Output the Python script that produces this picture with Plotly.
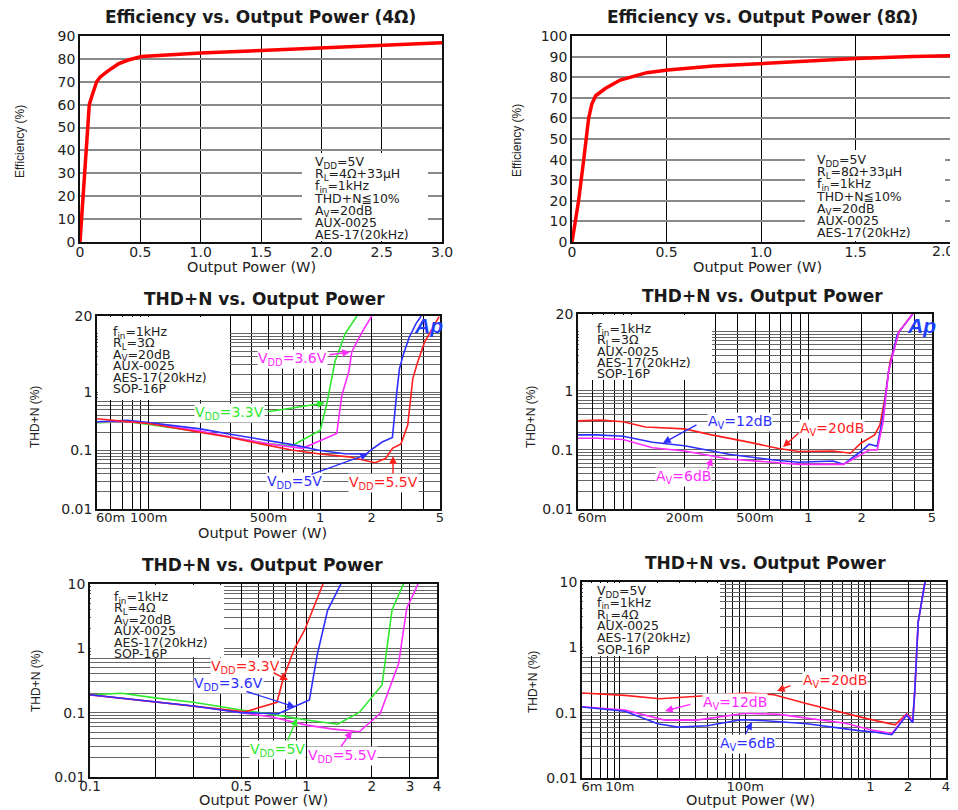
import math
import plotly.graph_objects as go

# the page shows the figure with the browser's default 8px body margin
PAGE_W, PAGE_H, OFF = 958, 810, 8
W, H = PAGE_W - OFF, PAGE_H - OFF
FONT = "Liberation Sans, Arial, Helvetica, sans-serif"
WIDE = "DejaVu Sans, Verdana, sans-serif"
RED, GREEN, BLUE, MAG = "#ff1f1f", "#2fe82f", "#2f2fff", "#ff2cff"

# ---------------- data ----------------
# Efficiency 4 ohm
eff4_power = [0, 0.025, 0.05, 0.077, 0.1, 0.138, 0.166, 0.235, 0.318, 0.40, 0.51, 0.7, 1.0, 1.5, 2.0, 2.5, 3.0]
eff4_eff = [0, 20, 40, 60, 64, 70, 72, 74.9, 77.8, 79.5, 81, 81.6, 82.6, 83.7, 84.8, 85.8, 87.1]
# Efficiency 8 ohm
eff8_power = [0, 0.035, 0.062, 0.088, 0.105, 0.125, 0.176, 0.255, 0.396, 0.507, 0.749, 1.0, 1.278, 1.503, 1.806, 2.0]
eff8_eff = [0, 20, 40, 60, 67, 71, 74.5, 78.6, 82.2, 83.5, 85.4, 86.7, 88, 89.1, 90, 90.4]

# THD+N, 3 ohm, various VDD
p3_33_x = [0.05, 0.075, 0.1, 0.2, 0.3, 0.5, 0.68, 1.0, 1.09, 1.22, 1.4, 1.64]
p3_33_y = [0.30, 0.31, 0.28, 0.21, 0.17, 0.13, 0.12, 0.22, 0.6, 3.3, 10, 20]
p3_36_x = [0.05, 0.075, 0.1, 0.2, 0.3, 0.5, 0.79, 1.25, 1.34, 1.47, 1.53, 1.76, 2.0]
p3_36_y = [0.31, 0.31, 0.29, 0.215, 0.17, 0.13, 0.109, 0.196, 0.89, 2.23, 4.9, 10.7, 20]
p3_50_x = [0.05, 0.075, 0.1, 0.2, 0.3, 0.5, 0.7, 1.0, 1.4, 1.85, 2.0, 2.3, 2.64, 2.8, 2.9, 3.05, 3.3, 3.63, 3.89]
p3_50_y = [0.31, 0.33, 0.30, 0.235, 0.19, 0.15, 0.125, 0.10, 0.088, 0.087, 0.105, 0.14, 0.168, 1.0, 2.5, 4.3, 8.5, 15, 20]
p3_55_x = [0.05, 0.07, 0.1, 0.19, 0.29, 0.45, 0.68, 1.0, 1.47, 2.09, 2.41, 2.64, 2.96, 3.24, 3.47, 3.71, 4.07, 4.94]
p3_55_y = [0.35, 0.32, 0.29, 0.21, 0.17, 0.13, 0.102, 0.087, 0.078, 0.062, 0.073, 0.109, 0.13, 0.27, 1.7, 3.3, 7.2, 19.5]

# THD+N, 3 ohm, various gain
p4_20_x = [0.05, 0.067, 0.09, 0.12, 0.2, 0.284, 0.446, 0.67, 0.88, 1.0, 1.38, 1.73, 1.98, 2.37, 2.54, 2.71, 2.9, 3.25, 3.89]
p4_20_y = [0.31, 0.32, 0.30, 0.245, 0.227, 0.18, 0.138, 0.107, 0.094, 0.095, 0.096, 0.088, 0.13, 0.18, 0.265, 0.75, 3.14, 10.1, 20]
p4_12_x = [0.05, 0.064, 0.09, 0.132, 0.2, 0.356, 0.625, 0.877, 1.38, 1.58, 1.98, 2.21, 2.45, 2.65, 2.84, 3.18, 3.89]
p4_12_y = [0.18, 0.18, 0.17, 0.135, 0.118, 0.0845, 0.068, 0.0618, 0.065, 0.057, 0.094, 0.125, 0.115, 0.39, 2.12, 9, 20]
p4_6_x = [0.05, 0.064, 0.09, 0.132, 0.2, 0.356, 0.625, 0.877, 1.58, 1.98, 2.21, 2.45, 2.65, 2.84, 3.25, 3.89]
p4_6_y = [0.158, 0.158, 0.15, 0.109, 0.096, 0.0703, 0.062, 0.057, 0.057, 0.082, 0.10, 0.10, 0.30, 2.12, 10, 20]

# THD+N, 4 ohm, various VDD
p5_33_x = [0.1, 0.2, 0.3, 0.52, 0.73, 0.78, 0.88, 0.98, 1.19]
p5_33_y = [0.19, 0.148, 0.127, 0.103, 0.145, 0.34, 1.0, 1.93, 10]
p5_36_x = [0.1, 0.2, 0.3, 0.5, 0.74, 1.03, 1.12, 1.25, 1.44]
p5_36_y = [0.19, 0.148, 0.127, 0.10, 0.096, 0.157, 0.8, 3.9, 10]
p5_50_x = [0.1, 0.14, 0.2, 0.3, 0.5, 0.7, 1.0, 1.39, 1.75, 2.23, 2.48, 2.8]
p5_50_y = [0.19, 0.20, 0.17, 0.145, 0.11, 0.094, 0.077, 0.066, 0.101, 0.269, 3.95, 10]
p5_55_x = [0.1, 0.2, 0.3, 0.5, 0.7, 1.0, 1.3, 1.75, 2.19, 2.66, 2.9, 3.27]
p5_55_y = [0.188, 0.148, 0.127, 0.10, 0.085, 0.064, 0.056, 0.0505, 0.098, 0.58, 4.2, 10]

# THD+N, 4 ohm, VDD=5V, various gain
p6_20_x = [0.005, 0.011, 0.0208, 0.0568, 0.104, 0.17, 0.312, 0.935, 1.57, 1.94, 2.07, 2.17, 2.26, 2.4, 2.72]
p6_20_y = [0.20, 0.184, 0.163, 0.188, 0.20, 0.188, 0.137, 0.081, 0.065, 0.096, 0.085, 0.072, 0.23, 2.44, 10]
p6_12_x = [0.005, 0.011, 0.0228, 0.041, 0.101, 0.186, 0.63, 1.06, 1.48, 1.94, 2.17, 2.26, 2.4, 2.72]
p6_12_y = [0.123, 0.11, 0.077, 0.077, 0.098, 0.094, 0.069, 0.0535, 0.048, 0.094, 0.074, 0.23, 2.44, 10]
p6_6_x = [0.005, 0.011, 0.0201, 0.029, 0.05, 0.0925, 0.133, 0.312, 0.78, 1.06, 1.48, 1.94, 2.17, 2.26, 2.4, 2.72]
p6_6_y = [0.122, 0.105, 0.0676, 0.06, 0.063, 0.078, 0.076, 0.0676, 0.0535, 0.0505, 0.046, 0.091, 0.07, 0.23, 2.44, 10]

# tick labels
eff4_xticks = [0, 0.5, 1.0, 1.5, 2.0, 2.5, 3.0]
eff4_xlabels = ["0", "0.5", "1.0", "1.5", "2.0", "2.5", "3.0"]
eff4_yticks = list(range(0, 91, 10))
eff8_xticks = [0, 0.5, 1.0, 1.5, 2.0]
eff8_xlabels = ["0", "0.5", "1.0", "1.5", ""]   # last label "2.0" placed at the page edge below
eff8_last_label = "2.0"
eff8_yticks = list(range(0, 101, 10))
p3_xlab = {0.06: "60m", 0.1: "100m", 0.5: "500m", 1: "1", 2: "2", 5: "5"}
p4_xlab = {0.06: "60m", 0.2: "200m", 0.5: "500m", 1: "1", 2: "2", 5: "5"}
p5_xlab = {0.1: "0.1", 0.5: "0.5", 1: "1", 2: "2", 3: "3", 4: "4"}
p6_xlab = {0.006: "6m", 0.01: "10m", 0.1: "100m", 1: "1", 2: "2", 4: "4"}
thd20_ylab = {0.01: "0.01", 0.1: "0.1", 1: "1", 20: "20"}
thd10_ylab = {0.01: "0.01", 0.1: "0.1", 1: "1", 10: "10"}

# ---------------- layout geometry (page pixels: L, T, R, B) ----------------
BOX = {1: (80, 36, 442, 242), 2: (572, 36, 950, 242), 3: (97, 316, 440, 509),
       4: (578, 314, 932, 509), 5: (90, 584, 437, 777), 6: (582, 582, 946, 778)}
XR = {1: (0, 3, False), 2: (0, 2, False), 3: (0.05, 5, True), 4: (0.05, 5, True),
      5: (0.1, 4, True), 6: (0.005, 4, True)}
YR = {1: (0, 90, False), 2: (0, 100, False), 3: (0.01, 20, True), 4: (0.01, 20, True),
      5: (0.01, 10, True), 6: (0.01, 10, True)}


def px(x):
    return (x - OFF) / W


def py(y):
    return 1 - (y - OFF) / H


def frac_to_val(f, rng):
    lo, hi, islog = rng
    if islog:
        a, b = math.log10(lo), math.log10(hi)
        return 10 ** (a + f * (b - a))
    return lo + f * (hi - lo)


def log_grid(lo, hi):
    vals = []
    for e in range(-4, 3):
        for m in range(1, 10):
            v = round(m * 10 ** e, 8)
            if lo * 0.999 <= v <= hi * 1.001:
                vals.append(v)
    if round(hi, 8) not in vals:
        vals.append(round(hi, 8))
    return vals


fig = go.Figure()
layout = dict(width=W, height=H, margin=dict(l=0, r=0, t=0, b=0, autoexpand=False),
              paper_bgcolor="white", plot_bgcolor="white", showlegend=False,
              font=dict(family=FONT, color="#222"))

base_ax = dict(showline=True, mirror=True, linecolor="#111", linewidth=1.5, ticks="",
               zeroline=False, showgrid=True, tickfont=dict(size=14, color="#222", family=WIDE),
               fixedrange=True, ticklabeloverflow="allow", automargin=False, tickangle=0)


def axkeys(i):
    return ("xaxis" if i == 1 else f"xaxis{i}", "yaxis" if i == 1 else f"yaxis{i}",
            "x" if i == 1 else f"x{i}", "y" if i == 1 else f"y{i}")


def set_axes(i, xa, ya):
    L, T, R, B = BOX[i]
    xk, yk, xr, yr = axkeys(i)
    layout[xk] = dict(base_ax, domain=[px(L), px(R)], anchor=yr, ticklabelstandoff=-4)
    layout[xk].update(xa)
    layout[yk] = dict(base_ax, domain=[py(B), py(T)], anchor=xr)
    layout[yk].update(ya)


set_axes(1, dict(range=[0, 3], tickvals=eff4_xticks, ticktext=eff4_xlabels, gridcolor="#000", gridwidth=1),
         dict(range=[0, 90], tickvals=eff4_yticks, gridcolor="#8a8a8a", gridwidth=1.5))
set_axes(2, dict(range=[0, 2], tickvals=eff8_xticks, ticktext=eff8_xlabels, gridcolor="#000", gridwidth=1),
         dict(range=[0, 100], tickvals=eff8_yticks, gridcolor="#8a8a8a", gridwidth=1.5))


def log_axis(rng, labels, gcolor, size=14):
    lo, hi, _ = rng
    return dict(type="log", range=[math.log10(lo), math.log10(hi)], tickvals=list(labels.keys()),
                ticktext=list(labels.values()), gridcolor=gcolor, gridwidth=1,
                tickfont=dict(size=size, color="#222", family=WIDE),
                minor=dict(tickmode="array", tickvals=log_grid(lo, hi), showgrid=True,
                           gridcolor=gcolor, gridwidth=1, ticks=""))


set_axes(3, log_axis(XR[3], p3_xlab, "#000", 13), log_axis(YR[3], thd20_ylab, "#666"))
set_axes(4, log_axis(XR[4], p4_xlab, "#000", 13), log_axis(YR[4], thd20_ylab, "#666"))
set_axes(5, log_axis(XR[5], p5_xlab, "#000", 13.5), log_axis(YR[5], thd10_ylab, "#666"))
set_axes(6, log_axis(XR[6], p6_xlab, "#000", 13), log_axis(YR[6], thd10_ylab, "#666"))

# white boxes behind condition text (filled traces: above the grid, below the curves)
WHITE_BOX = {1: (302, 153, 428, 241), 2: (805, 150, 945, 241), 3: (98, 317, 230, 400),
             4: (579, 315, 712, 380), 5: (91, 585, 224, 657), 6: (583, 583, 720, 656)}
for i, (x0, y0, x1, y1) in WHITE_BOX.items():
    L, T, R, B = BOX[i]
    _, _, xr, yr = axkeys(i)
    xa = frac_to_val((x0 - L) / (R - L), XR[i])
    xb = frac_to_val((x1 - L) / (R - L), XR[i])
    ya = frac_to_val((B - y1) / (B - T), YR[i])
    yb = frac_to_val((B - y0) / (B - T), YR[i])
    fig.add_trace(go.Scatter(x=[xa, xb, xb, xa, xa], y=[ya, ya, yb, yb, ya], mode="lines",
                             fill="toself", fillcolor="white", line=dict(width=0, color="white"),
                             xaxis=xr, yaxis=yr, hoverinfo="skip"))


def add_line(i, x, y, color, width=1.6):
    _, _, xr, yr = axkeys(i)
    fig.add_trace(go.Scatter(x=x, y=y, mode="lines", xaxis=xr, yaxis=yr,
                             line=dict(color=color, width=width), hoverinfo="skip"))


add_line(1, eff4_power, eff4_eff, "#ff0000", 3.5)
add_line(2, eff8_power, eff8_eff, "#ff0000", 3.5)
add_line(3, p3_33_x, p3_33_y, GREEN)
add_line(3, p3_36_x, p3_36_y, MAG)
add_line(3, p3_50_x, p3_50_y, BLUE)
add_line(3, p3_55_x, p3_55_y, RED)
add_line(4, p4_20_x, p4_20_y, RED)
add_line(4, p4_12_x, p4_12_y, BLUE)
add_line(4, p4_6_x, p4_6_y, MAG)
add_line(5, p5_50_x, p5_50_y, GREEN)
add_line(5, p5_55_x, p5_55_y, MAG)
add_line(5, p5_33_x, p5_33_y, RED)
add_line(5, p5_36_x, p5_36_y, BLUE)
add_line(6, p6_20_x, p6_20_y, RED)
add_line(6, p6_12_x, p6_12_y, MAG)
add_line(6, p6_6_x, p6_6_y, BLUE)

ann = []


def text(x, y, s, size=14, color="#222", xanchor="left", bold=False, angle=0, bg=None,
         family=FONT, yanchor="middle", align="center"):
    a = dict(x=px(x), y=py(y), xref="paper", yref="paper", text=(f"<b>{s}</b>" if bold else s),
             showarrow=False, xanchor=xanchor, yanchor=yanchor, textangle=angle, align=align,
             font=dict(size=size, color=color, family=family))
    if bg:
        a.update(bgcolor=bg, borderpad=0)
    ann.append(a)


def arrow(tail, head, color):
    ann.append(dict(x=px(head[0]), y=py(head[1]), xref="paper", yref="paper", text="",
                    showarrow=True, ax=tail[0] - head[0], ay=tail[1] - head[1],
                    arrowhead=2, arrowsize=1.1, arrowwidth=1.4, arrowcolor=color))


# titles
text(260, 17, "Efficiency vs. Output Power (4Ω)", 17, "#1a1a1a", "center", True, family=WIDE)
text(762, 17, "Efficiency vs. Output Power (8Ω)", 17, "#1a1a1a", "center", True, family=WIDE)
text(264, 299, "THD+N vs. Output Power", 17, "#1a1a1a", "center", True, family=WIDE)
text(762, 296, "THD+N vs. Output Power", 17, "#1a1a1a", "center", True, family=WIDE)
text(262, 565, "THD+N vs. Output Power", 17, "#1a1a1a", "center", True, family=WIDE)
text(765, 563, "THD+N vs. Output Power", 17, "#1a1a1a", "center", True, family=WIDE)

# last x tick label of the 8-ohm panel, kept inside the page
text(943, 251, eff8_last_label, 14, "#222", "center", family=WIDE)

# axis titles
for (x, y) in [(252, 267), (757, 267), (262, 533), (263, 800), (750, 800)]:
    text(x, y, "Output Power (W)", 14.5, "#222", "center", family=WIDE)
for (x, y) in [(20, 142), (517, 140)]:
    text(x, y, "Efficiency (%)", 12, "#222", "center", angle=-90)
for (x, y) in [(35, 417), (531, 417), (36, 681), (533, 682)]:
    text(x, y, "THD+N (%)", 12, "#222", "center", angle=-90)

# condition boxes (one text block each; tight line pitch like the original)
cond1 = ["V<sub>DD</sub>=5V", "R<sub>L</sub>=4Ω+33μH", "f<sub>in</sub>=1kHz", "THD+N≦10%",
         "A<sub>V</sub>=20dB", "AUX-0025", "AES-17(20kHz)"]
cond2 = ["V<sub>DD</sub>=5V", "R<sub>L</sub>=8Ω+33μH", "f<sub>in</sub>=1kHz", "THD+N≦10%",
         "A<sub>V</sub>=20dB", "AUX-0025", "AES-17(20kHz)"]
cond3 = ["f<sub>in</sub>=1kHz", "R<sub>L</sub>=3Ω", "A<sub>V</sub>=20dB", "AUX-0025", "AES-17(20kHz)", "SOP-16P"]
cond4 = ["f<sub>in</sub>=1kHz", "R<sub>L</sub>=3Ω", "AUX-0025", "AES-17(20kHz)", "SOP-16P"]
cond5 = ["f<sub>in</sub>=1kHz", "R<sub>L</sub>=4Ω", "A<sub>V</sub>=20dB", "AUX-0025", "AES-17(20kHz)", "SOP-16P"]
cond6 = ["V<sub>DD</sub>=5V", "f<sub>in</sub>=1kHz", "R<sub>L</sub>=4Ω", "AUX-0025", "AES-17(20kHz)", "SOP-16P"]
for lines, x, y0, dy in [(cond1, 312, 160, 12.2), (cond2, 814, 158, 12.2), (cond3, 111, 330, 11.4),
                         (cond4, 595, 327, 11.3), (cond5, 112, 595, 11.4), (cond6, 595, 589, 11.8)]:
    body = "<br>".join(f'<span style="font-size:12.5px">{s}</span>' for s in lines)
    yc = y0 + (len(lines) - 1) * dy / 2 + 1
    text(x, yc, body, dy / 1.3, "#222", "left", family=WIDE, align="left")


# curve labels
def label(center, s, color, tail, head):
    text(center[0], center[1], s, 14, color, "center", bg="white", family=WIDE)
    arrow(tail, head, color)


label((292, 359), "V<sub>DD</sub>=3.6V", MAG, (328, 355), (350, 352))
label((229, 413), "V<sub>DD</sub>=3.3V", GREEN, (266, 412), (325, 403))
label((294, 482), "V<sub>DD</sub>=5V", BLUE, (310, 475), (368, 454))
label((383, 483), "V<sub>DD</sub>=5.5V", RED, (393, 475), (393, 456))

label((740, 422), "A<sub>V</sub>=12dB", BLUE, (698, 424), (663, 443))
label((832, 429), "A<sub>V</sub>=20dB", RED, (800, 432), (783, 447))
label((683, 477), "A<sub>V</sub>=6dB", MAG, (707, 471), (712, 458))

label((245, 667), "V<sub>DD</sub>=3.3V", RED, (272, 672), (288, 680))
label((228, 684), "V<sub>DD</sub>=3.6V", BLUE, (245, 691), (295, 707))
label((277, 750), "V<sub>DD</sub>=5V", GREEN, (287, 742), (297, 718))
label((342, 756), "V<sub>DD</sub>=5.5V", MAG, (340, 748), (352, 731))

label((835, 681), "A<sub>V</sub>=20dB", RED, (792, 685), (777, 691))
label((735, 703), "A<sub>V</sub>=12dB", MAG, (692, 704), (665, 711))
label((747, 744), "A<sub>V</sub>=6dB", BLUE, (745, 735), (752, 722))

# Ap logos
for (x, y) in [(428, 325), (921, 325)]:
    text(x, y, "<i>Ap</i>", 21, "#1f3fff", "center", bold=True)

layout["annotations"] = ann
fig.update_layout(**layout)
fig.write_html("out.html")
